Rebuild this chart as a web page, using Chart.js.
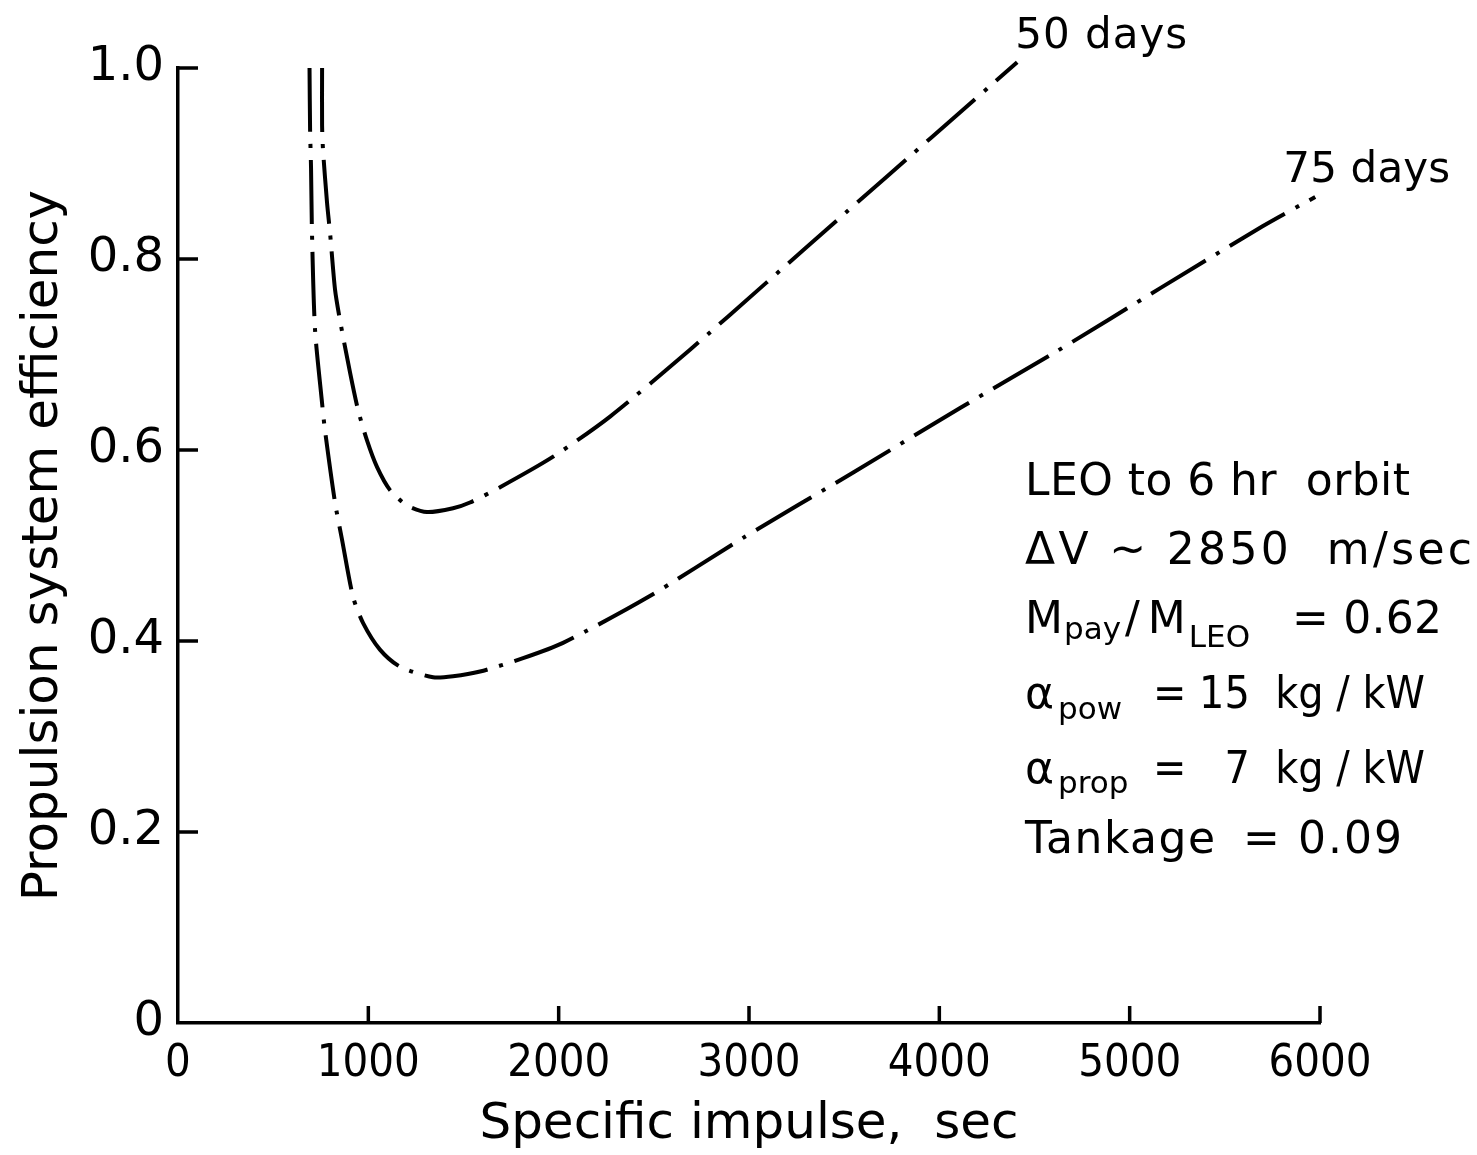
<!DOCTYPE html>
<html>
<head>
<meta charset="utf-8">
<script src="https://cdn.jsdelivr.net/npm/chart.js@4.4.0/dist/chart.umd.min.js"></script>
<style>
  html, body { margin: 0; padding: 0; background: #fff; }
  #wrap { width: 1477px; height: 1155px; }
</style>
</head>
<body>
<div id="wrap"><canvas id="chart" width="1477" height="1155"></canvas></div>
<script>
// values: specific impulse (sec) vs propulsion system efficiency
const isp50 = [757, 757, 762, 783, 799, 825, 851, 904, 946, 993, 1046, 1114, 1203, 1308, 1445, 1534, 1692, 1971, 2270, 2690, 3090, 3505, 3957, 4409];
const eff50 = [1.0, 0.94, 0.914, 0.859, 0.827, 0.768, 0.736, 0.681, 0.642, 0.610, 0.582, 0.558, 0.542, 0.535, 0.539, 0.545, 0.561, 0.593, 0.635, 0.705, 0.775, 0.848, 0.927, 1.006];
const isp75 = [691, 694, 699, 704, 720, 757, 772, 825, 862, 920, 972, 1061, 1167, 1340, 1445, 1587, 1813, 2023, 2470, 2969, 3552, 4109, 4614, 5165, 5696, 5975];
const eff75 = [1.0, 0.935, 0.895, 0.827, 0.726, 0.649, 0.621, 0.545, 0.506, 0.446, 0.419, 0.391, 0.373, 0.362, 0.363, 0.368, 0.382, 0.398, 0.446, 0.508, 0.577, 0.644, 0.703, 0.770, 0.834, 0.865];
const seriesNames = ['50 days', '75 days'];
const xTicks = [0, 1000, 2000, 3000, 4000, 5000, 6000];
const yTicks = [0, 0.2, 0.4, 0.6, 0.8, 1.0];

const FONT = "'DejaVu Sans', sans-serif";
Chart.defaults.font.family = FONT;
Chart.defaults.color = '#000';

const toPoints = (xs, ys) => xs.map((x, i) => ({ x, y: ys[i] }));

// short tick marks pointing into the plot
const inwardTicks = {
  id: 'inwardTicks',
  afterDraw(chart) {
    const { ctx, scales: { x, y } } = chart;
    ctx.save();
    ctx.strokeStyle = '#000';
    ctx.lineWidth = 3.5;
    ctx.beginPath();
    yTicks.forEach((v) => {
      if (v === 0) return;
      const py = y.getPixelForValue(v);
      ctx.moveTo(x.left, py);
      ctx.lineTo(x.left + 20, py);
    });
    xTicks.forEach((v) => {
      if (v === 0) return;
      const px = x.getPixelForValue(v);
      ctx.moveTo(px, y.bottom);
      ctx.lineTo(px, y.bottom - 17);
    });
    ctx.stroke();
    ctx.restore();
  }
};

// draw text so that it roughly spans x0..x1 (slightly squeezed or letter-spaced)
function fitText(ctx, t, x0, x1, y, size) {
  ctx.font = size + 'px ' + FONT;
  ctx.letterSpacing = '0px';
  const w = ctx.measureText(t).width;
  const target = x1 - x0;
  if (w > target) {
    ctx.fillText(t, x0, y, target);
  } else {
    const n = Math.max(t.length - 1, 1);
    ctx.letterSpacing = Math.min((target - w) / n, 4) + 'px';
    ctx.fillText(t, x0, y);
    ctx.letterSpacing = '0px';
  }
}

// plain text at its natural width, returns the right edge
function putText(ctx, t, x, y, size) {
  ctx.font = size + 'px ' + FONT;
  ctx.letterSpacing = '0px';
  ctx.fillText(t, x, y);
  return x + ctx.measureText(t).width;
}

const annotations = {
  id: 'annotations',
  afterDraw(chart) {
    const { ctx } = chart;
    ctx.save();
    ctx.fillStyle = '#000';
    ctx.textBaseline = 'alphabetic';
    ctx.textAlign = 'left';

    // curve names next to the ends of the curves: [dx, width, dy]
    const place = [[-2, 172, -14], [-32, 167, -15]];
    chart.data.datasets.forEach((ds, i) => {
      const pts = chart.getDatasetMeta(i).data;
      const last = pts[pts.length - 1];
      const [dx, w, dy] = place[i];
      fitText(ctx, seriesNames[i], last.x + dx, last.x + dx + w, last.y + dy, 42);
    });

    // parameter note
    fitText(ctx, 'LEO to 6 hr  orbit', 1025, 1410, 495, 44);
    fitText(ctx, '\u0394V ~ 2850  m/sec', 1025, 1472, 564, 44);

    let x = putText(ctx, 'M', 1025, 633, 44);
    x = putText(ctx, 'pay', x + 1, 639, 31);
    x = putText(ctx, '/', x + 4, 633, 44);
    x = putText(ctx, 'M', x + 8, 633, 44);
    putText(ctx, 'LEO', x + 3, 647, 31);
    fitText(ctx, '= 0.62', 1292, 1442, 633, 44);

    x = putText(ctx, '\u03b1', 1025, 708, 44);
    putText(ctx, 'pow', x + 4, 719, 31);
    fitText(ctx, '= 15  kg / kW', 1153, 1425, 708, 44);

    x = putText(ctx, '\u03b1', 1025, 783, 44);
    putText(ctx, 'prop', x + 4, 793, 31);
    fitText(ctx, '=   7  kg / kW', 1153, 1425, 783, 44);

    fitText(ctx, 'Tankage', 1025, 1215, 853, 44);
    fitText(ctx, '= 0.09', 1243, 1402, 853, 44);
    ctx.restore();
  }
};

const lineStyle = {
  borderColor: '#000',
  borderWidth: 4,
  borderDash: [64, 12, 4, 12],
  pointRadius: 0,
  fill: false,
  tension: 0.25,
  clip: 12
};

new Chart(document.getElementById('chart'), {
  type: 'line',
  data: {
    datasets: [
      Object.assign({ label: seriesNames[0], data: toPoints(isp50, eff50) }, lineStyle),
      Object.assign({ label: seriesNames[1], data: toPoints(isp75, eff75) }, lineStyle)
    ]
  },
  options: {
    responsive: false,
    animation: false,
    layout: { padding: { left: 0, top: 68, right: 157, bottom: 0 } },
    plugins: {
      legend: { display: false },
      tooltip: { enabled: false }
    },
    scales: {
      x: {
        type: 'linear',
        min: 0,
        max: 6000,
        afterBuildTicks: (scale) => { scale.ticks = xTicks.map((v) => ({ value: v })); },
        afterFit: (scale) => { scale.height = 132; },
        grid: { display: true, drawOnChartArea: false, drawTicks: false },
        border: { display: true, color: '#000', width: 3.5 },
        ticks: {
          padding: 14,
          maxRotation: 0,
          autoSkip: false,
          font: { size: 45, family: "'DejaVu Sans Condensed', sans-serif" },
          callback: (v) => String(v)
        },
        title: {
          display: true,
          text: 'Specific impulse,  sec',
          font: { size: 50 },
          padding: { top: 0, bottom: 0 }
        }
      },
      y: {
        min: 0,
        max: 1,
        afterBuildTicks: (scale) => { scale.ticks = yTicks.map((v) => ({ value: v })); },
        afterFit: (scale) => { scale.width = 178; },
        grid: { display: true, drawOnChartArea: false, drawTicks: false },
        border: { display: true, color: '#000', width: 3.5 },
        ticks: {
          padding: 14,
          autoSkip: false,
          font: { size: 48 },
          callback: (v) => (v === 0 ? '0' : v.toFixed(1))
        },
        title: {
          display: true,
          text: 'Propulsion system efficiency',
          font: { size: 50 },
          padding: { top: 14, bottom: 0 }
        }
      }
    }
  },
  plugins: [inwardTicks, annotations]
});
</script>
</body>
</html>
